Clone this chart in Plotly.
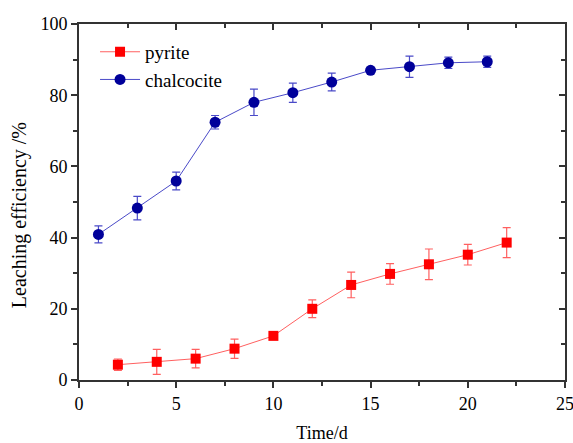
import plotly.graph_objects as go

pyrite_x = [2, 4, 6, 8, 10, 12, 14, 16, 18, 20, 22]
pyrite_y = [4.3, 5.1, 6.0, 8.8, 12.4, 20.0, 26.7, 29.8, 32.5, 35.2, 38.6]
pyrite_err = [1.6, 3.5, 2.6, 2.7, 0.8, 2.5, 3.6, 2.9, 4.3, 2.9, 4.2]

chalco_x = [1, 3, 5, 7, 9, 11, 13, 15, 17, 19, 21]
chalco_y = [40.9, 48.3, 55.9, 72.4, 78.0, 80.7, 83.7, 87.0, 88.0, 89.1, 89.4]
chalco_err = [2.4, 3.3, 2.5, 1.9, 3.7, 2.7, 2.5, 0.6, 3.0, 1.6, 1.6]

x_ticks = [0, 5, 10, 15, 20, 25]
y_ticks = [0, 20, 40, 60, 80, 100]

FONT = "Liberation Serif"

fig = go.Figure()
fig.add_trace(go.Scatter(
    x=pyrite_x, y=pyrite_y, name="pyrite", mode="lines+markers",
    line=dict(color="#FF6060", width=1),
    marker=dict(symbol="square", size=10, color="#FF0000"),
    error_y=dict(type="data", array=pyrite_err, color="#FF6060", thickness=1.2, width=4),
))
fig.add_trace(go.Scatter(
    x=chalco_x, y=chalco_y, name="chalcocite", mode="lines+markers",
    line=dict(color="#4A4AC8", width=1),
    marker=dict(symbol="circle", size=11, color="#00009A"),
    error_y=dict(type="data", array=chalco_err, color="#4A4AC8", thickness=1.2, width=4),
))
# invisible trace to activate the mirrored (inside-tick) axes on top and right
fig.add_trace(go.Scatter(x=[5], y=[50], xaxis="x2", yaxis="y2", mode="markers",
                         marker=dict(opacity=0), showlegend=False, hoverinfo="skip"))

line_style = dict(showgrid=False, zeroline=False, showline=True, linecolor="#333333",
                  linewidth=2, tickcolor="#333333", tickwidth=1.5, ticklen=6, automargin=False)

fig.update_layout(
    width=573, height=443,
    margin=dict(l=79, r=8, t=24, b=63, autoexpand=False),
    paper_bgcolor="white", plot_bgcolor="white",
    font=dict(family=FONT, color="black"),
    xaxis=dict(range=[0, 25], tickvals=x_ticks, ticks="outside", mirror=True,
               ticklabeloverflow="allow",
               tickfont=dict(family=FONT, size=18, color="black"),
               minor=dict(ticks="outside", dtick=2.5, ticklen=4, tickcolor="#333333", tickwidth=1.5),
               title=dict(text="Time/d", font=dict(family=FONT, size=18), standoff=14),
               **line_style),
    yaxis=dict(range=[0, 100], tickvals=y_ticks, ticks="outside", mirror=True,
               tickfont=dict(family=FONT, size=18, color="black"),
               minor=dict(ticks="outside", dtick=10, ticklen=4, tickcolor="#333333", tickwidth=1.5),
               **line_style),
    xaxis2=dict(range=[0, 25], overlaying="x", side="top", tickvals=x_ticks, ticks="inside",
                showticklabels=False, anchor="y2",
                minor=dict(ticks="inside", dtick=2.5, ticklen=4, tickcolor="#333333", tickwidth=1.5),
                **line_style),
    yaxis2=dict(range=[0, 100], overlaying="y", side="right", tickvals=y_ticks, ticks="inside",
                showticklabels=False, anchor="x2",
                minor=dict(ticks="inside", dtick=10, ticklen=4, tickcolor="#333333", tickwidth=1.5),
                **line_style),
    legend=dict(x=0.033, y=0.975, xanchor="left", yanchor="top", bgcolor="rgba(0,0,0,0)",
                font=dict(family=FONT, size=19), tracegroupgap=0, itemwidth=40),
    annotations=[dict(text="Leaching efficiency /%", textangle=-90, showarrow=False,
                      xref="paper", yref="paper", x=-0.121, y=0.4635,
                      xanchor="center", yanchor="middle",
                      font=dict(family=FONT, size=20, color="black"))],
    showlegend=True,
)

# remove the page's default 8px body margin so the figure fills the window exactly
fig.write_html("out.html", config={"displayModeBar": False},
               post_script="document.body.style.margin='0';")
